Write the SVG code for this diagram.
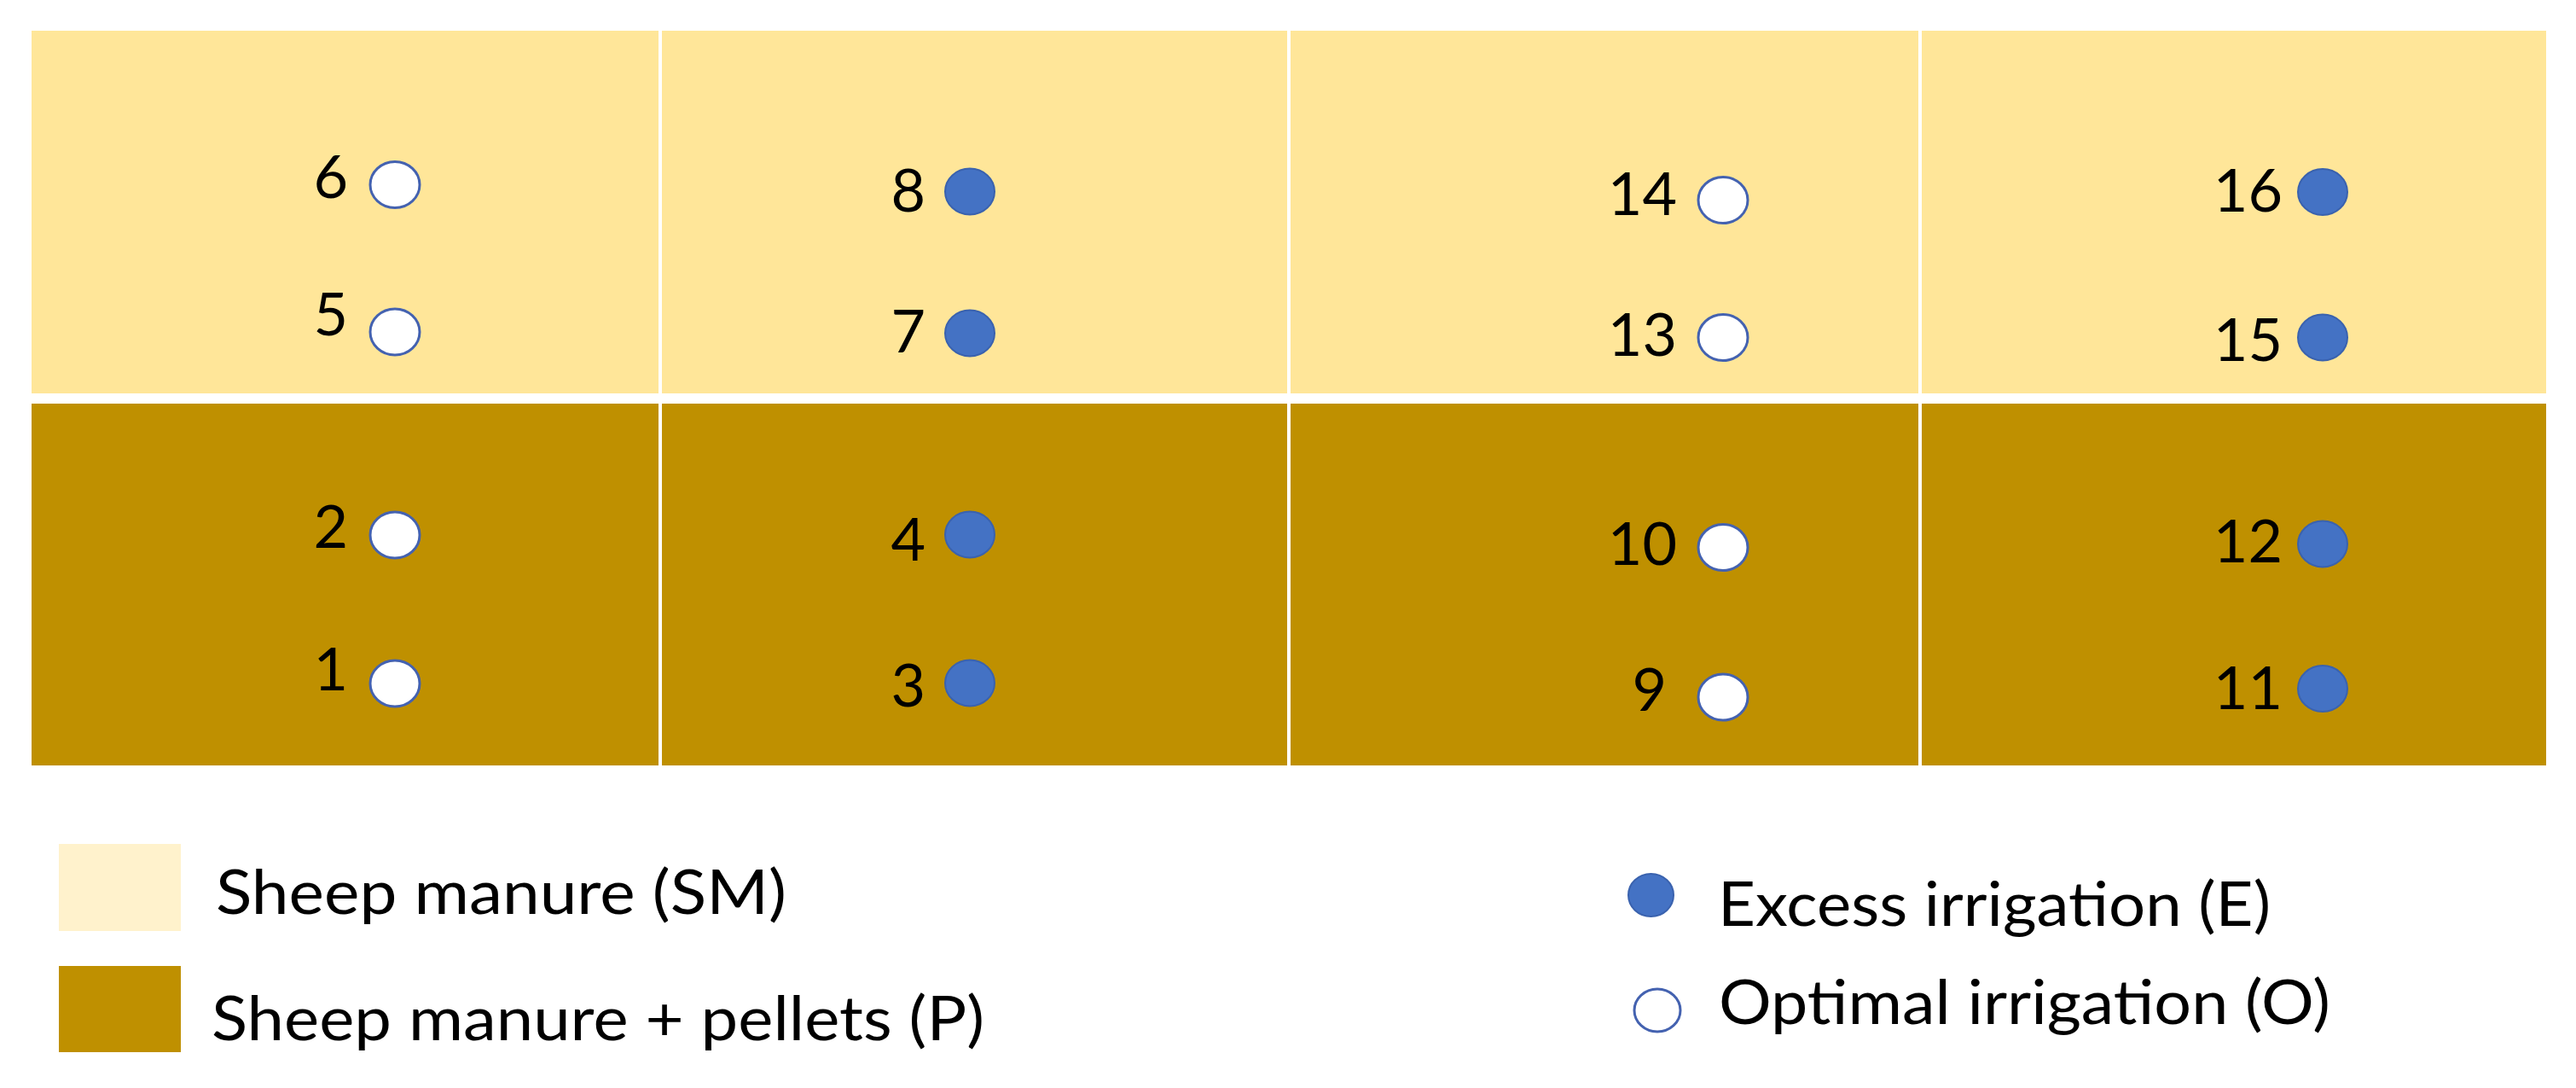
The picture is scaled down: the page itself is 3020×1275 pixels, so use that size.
<svg xmlns="http://www.w3.org/2000/svg" width="3020" height="1275" viewBox="0 0 3020 1275">
<style>
.num{font-family:Lato,"Open Sans","Liberation Sans",sans-serif;font-size:70px;fill:#000;text-anchor:end}
.leg{font-family:Lato,"Open Sans","Liberation Sans",sans-serif;font-size:72px;fill:#000}
.e{fill:#4472C4;stroke:#3A62AE;stroke-width:2}
.o{fill:#FFFFFF;stroke:#4462B0;stroke-width:3}
.sm{fill:#FFE699}
.p{fill:#BF9000}
</style>
<rect width="3020" height="1275" fill="#FFFFFF"/>
<g id="grid">
<rect class="sm" x="37" y="36" width="2948" height="425"/>
<rect class="p" x="37" y="473" width="2948" height="424"/>
<rect x="772" y="30" width="4" height="870" fill="#FFFFFF"/>
<rect x="1509" y="30" width="4" height="870" fill="#FFFFFF"/>
<rect x="2249" y="30" width="4" height="870" fill="#FFFFFF"/>
</g>
<g id="plot6"><text class="num" x="408" y="232">6</text><ellipse class="o" cx="463" cy="216.5" rx="29" ry="27"/></g>
<g id="plot5"><text class="num" x="408" y="393">5</text><ellipse class="o" cx="463" cy="389" rx="29" ry="27"/></g>
<g id="plot2"><text class="num" x="408" y="642">2</text><ellipse class="o" cx="463" cy="627" rx="29" ry="27"/></g>
<g id="plot1"><text class="num" x="408" y="809">1</text><ellipse class="o" cx="463" cy="801" rx="29" ry="27"/></g>
<g id="plot8"><text class="num" x="1085" y="248">8</text><ellipse class="e" cx="1137" cy="224.5" rx="29" ry="27"/></g>
<g id="plot7"><text class="num" x="1085" y="413">7</text><ellipse class="e" cx="1137" cy="390.5" rx="29" ry="27"/></g>
<g id="plot4"><text class="num" x="1085" y="657">4</text><ellipse class="e" cx="1137" cy="626.5" rx="29" ry="27"/></g>
<g id="plot3"><text class="num" x="1085" y="828">3</text><ellipse class="e" cx="1137" cy="800.5" rx="29" ry="27"/></g>
<g id="plot14"><text class="num" x="1966" y="252">14</text><ellipse class="o" cx="2020" cy="234.5" rx="29" ry="27"/></g>
<g id="plot13"><text class="num" x="1966" y="417">13</text><ellipse class="o" cx="2020" cy="395.5" rx="29" ry="27"/></g>
<g id="plot10"><text class="num" x="1966" y="662">10</text><ellipse class="o" cx="2020" cy="641.5" rx="29" ry="27"/></g>
<g id="plot9"><text class="num" x="1954" y="833">9</text><ellipse class="o" cx="2020" cy="817" rx="29" ry="27"/></g>
<g id="plot16"><text class="num" x="2676" y="248">16</text><ellipse class="e" cx="2723" cy="225" rx="29" ry="27"/></g>
<g id="plot15"><text class="num" x="2676" y="423">15</text><ellipse class="e" cx="2723" cy="395.5" rx="29" ry="27"/></g>
<g id="plot12"><text class="num" x="2676" y="659">12</text><ellipse class="e" cx="2723" cy="637.5" rx="29" ry="27"/></g>
<g id="plot11"><text class="num" x="2676" y="831">11</text><ellipse class="e" cx="2723" cy="807" rx="29" ry="27"/></g>
<g id="legend-sm"><rect x="69" y="989" width="143" height="102" fill="#FFF2CC"/><text class="leg" x="253" y="1071" textLength="669" lengthAdjust="spacingAndGlyphs">Sheep manure (SM)</text></g>
<g id="legend-p"><rect class="p" x="69" y="1132" width="143" height="101"/><text class="leg" x="248" y="1219" textLength="906" lengthAdjust="spacingAndGlyphs">Sheep manure + pellets (P)</text></g>
<g id="legend-e"><ellipse class="e" cx="1935.5" cy="1049" rx="26.5" ry="25"/><text class="leg" x="2014" y="1085" textLength="648" lengthAdjust="spacingAndGlyphs">Excess irrigation (E)</text></g>
<g id="legend-o"><ellipse class="o" cx="1943" cy="1184" rx="27" ry="25"/><text class="leg" x="2015" y="1200" textLength="717" lengthAdjust="spacingAndGlyphs">Optimal irrigation (O)</text></g>
</svg>
